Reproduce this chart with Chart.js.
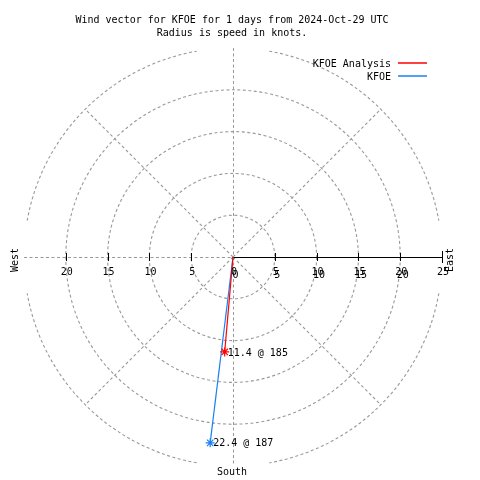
<!DOCTYPE html>
<html><head><meta charset="utf-8">
<script src="https://cdn.jsdelivr.net/npm/chart.js@4/dist/chart.umd.min.js"></script>
<style>html,body{margin:0;padding:0;background:#fff}#wrap{width:480px;height:480px}</style>
</head><body><div id="wrap"><canvas id="c" width="480" height="480"></canvas></div>
<script>
// ---- data ----
const titleLines = ["Wind vector for KFOE for 1 days from 2024-Oct-29 UTC", "Radius is speed in knots."];
const seriesNames = ["KFOE Analysis", "KFOE"];
const seriesColors = ["#ff0000", "#1a80f0"];
const speeds = [11.4, 22.4];      // knots
const directions = [185, 187];    // degrees
const ringValues = [5, 10, 15, 20];
const outerRing = 25;
const tickValues = [-20, -15, -10, -5, 0, 5, 10, 15, 20, 25];
const compassLabels = ["West", "East", "South"];

const FONT = '10px "DejaVu Sans Mono", "Liberation Mono", monospace';

function toXY(r, deg) {
  const a = deg * Math.PI / 180;
  return { x: r * Math.sin(a), y: r * Math.cos(a) };
}

const datasets = speeds.map((s, i) => {
  const p = toXY(s, directions[i]);
  return {
    label: seriesNames[i],
    data: [{ x: 0, y: 0 }, p],
    borderColor: seriesColors[i],
    backgroundColor: seriesColors[i],
    borderWidth: 1.2,
    showLine: true,
    pointStyle: 'star',
    pointRadius: [0, 4.5],
    pointBorderWidth: 1.2,
    pointBorderColor: seriesColors[i],
    order: i
  };
});

const polarPlugin = {
  id: 'polar',
  beforeDatasetsDraw(chart) {
    const ctx = chart.ctx, xs = chart.scales.x, ys = chart.scales.y;
    const cx = xs.getPixelForValue(0), cy = ys.getPixelForValue(0);
    const px = v => Math.abs(xs.getPixelForValue(v) - cx);
    ctx.save();
    ctx.strokeStyle = '#999999';
    ctx.lineWidth = 1.1;
    ctx.setLineDash([3, 2.5]);
    ringValues.forEach(r => {
      ctx.beginPath(); ctx.arc(cx, cy, px(r), 0, Math.PI * 2); ctx.stroke();
    });
    for (let q = 0; q < 4; q++) {
      const a0 = (q * 90 + 10) * Math.PI / 180, a1 = (q * 90 + 80) * Math.PI / 180;
      ctx.beginPath(); ctx.arc(cx, cy, px(outerRing), a0, a1); ctx.stroke();
    }
    [45, 135, 225, 315].forEach(d => {
      const p = toXY(outerRing * 0.99, d);
      ctx.beginPath(); ctx.moveTo(cx, cy);
      ctx.lineTo(xs.getPixelForValue(p.x), ys.getPixelForValue(p.y)); ctx.stroke();
    });
    ctx.lineWidth = 1;
    ctx.beginPath();
    ctx.moveTo(Math.round(cx) + 0.5, ys.getPixelForValue(outerRing));
    ctx.lineTo(Math.round(cx) + 0.5, ys.getPixelForValue(-outerRing)); ctx.stroke();
    ctx.beginPath();
    ctx.moveTo(xs.getPixelForValue(-outerRing), Math.round(cy) + 0.5); ctx.lineTo(cx, Math.round(cy) + 0.5); ctx.stroke();
    ctx.setLineDash([]);
    ctx.strokeStyle = '#000';
    ctx.beginPath(); ctx.moveTo(cx, Math.round(cy) + 0.5); ctx.lineTo(xs.getPixelForValue(outerRing), Math.round(cy) + 0.5); ctx.stroke();
    tickValues.forEach(v => {
      if (v === 0) return;
      const x = Math.round(xs.getPixelForValue(v)) + 0.5;
      const h = v === outerRing ? 6 : 4;
      ctx.beginPath(); ctx.moveTo(x, cy - h); ctx.lineTo(x, cy + h); ctx.stroke();
    });
    ctx.restore();
  },
  afterDatasetsDraw(chart) {
    const ctx = chart.ctx, xs = chart.scales.x, ys = chart.scales.y;
    const cx = xs.getPixelForValue(0), cy = ys.getPixelForValue(0);
    ctx.save();
    ctx.font = FONT;
    ctx.fillStyle = '#000';
    ctx.textBaseline = 'middle';
    ctx.textAlign = 'center';
    titleLines.forEach((t, i) => ctx.fillText(t, 232, 20 + i * 13));
    tickValues.forEach(v => {
      const x = xs.getPixelForValue(v) + 1;
      const s = String(Math.abs(v));
      ctx.fillText(s, x, cy + 15);
      if (v >= 0 && v < outerRing) ctx.fillText(s, x + 1.5, cy + 18);
    });
    ctx.fillText(compassLabels[2], cx - 1, ys.getPixelForValue(-outerRing) + 6);
    [[compassLabels[0], 15], [compassLabels[1], 450]].forEach(([t, x]) => {
      ctx.save(); ctx.translate(x, cy + 3); ctx.rotate(-Math.PI / 2);
      ctx.fillText(t, 0, 0); ctx.restore();
    });
    ctx.textAlign = 'left';
    speeds.forEach((s, i) => {
      const p = toXY(s, directions[i]);
      const x = xs.getPixelForValue(p.x), y = ys.getPixelForValue(p.y);
      ctx.fillText(s.toFixed(1) + ' @ ' + directions[i], x + 3, y + 1);
    });
    ctx.textAlign = 'right';
    seriesNames.forEach((n, i) => {
      const y = 63 + i * 13;
      ctx.fillText(n, 391, y + 1);
      ctx.strokeStyle = seriesColors[i]; ctx.lineWidth = 1.5;
      ctx.beginPath(); ctx.moveTo(398, y); ctx.lineTo(427, y); ctx.stroke();
    });
    ctx.restore();
  }
};

new Chart(document.getElementById('c'), {
  type: 'scatter',
  data: { datasets },
  options: {
    responsive: false,
    animation: false,
    layout: { padding: { left: 24, right: 38, top: 48, bottom: 14 } },
    plugins: { legend: { display: false }, tooltip: { enabled: false }, title: { display: false } },
    scales: {
      x: { type: 'linear', min: -outerRing, max: outerRing, display: false },
      y: { type: 'linear', min: -outerRing, max: outerRing, display: false }
    }
  },
  plugins: [polarPlugin]
});
</script>
</body></html>
